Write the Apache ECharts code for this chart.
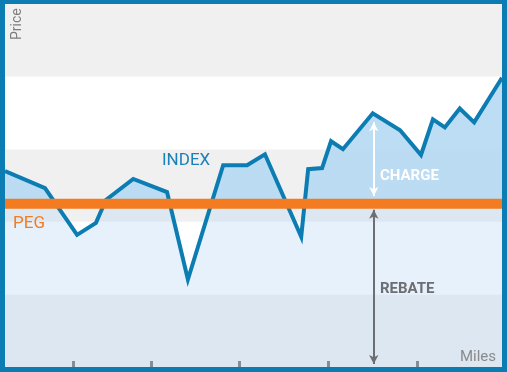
<!DOCTYPE html>
<html>
<head>
<meta charset="utf-8">
<script src="https://cdn.jsdelivr.net/npm/echarts@6/dist/echarts.min.js"></script>
<style>
  html, body { margin: 0; padding: 0; background: #fff; }
  #wrap { width: 507px; height: 372px; box-sizing: border-box; border: 5px solid #0b7db3; border-top-width: 4px; overflow: hidden; }
  #chart { width: 497px; height: 363px; }
</style>
</head>
<body>
<div id="wrap"><div id="chart"></div></div>
<script>
// Miles (x) and Price (y) of the INDEX line
const indexMiles = [0, 8.05, 14.5, 18.3, 20.3, 25.8, 32.6, 36.8, 43.9, 48.7, 52.3, 59.6, 61.0, 63.8, 65.6, 68.0, 74.0, 79.5, 83.7, 86.1, 88.5, 91.5, 94.4, 100];
const indexPrice = [54.0, 49.3, 36.4, 39.7, 46.0, 51.8, 48.2, 24.1, 55.6, 55.6, 58.6, 35.9, 54.5, 54.8, 62.2, 60.0, 69.9, 65.2, 58.4, 68.2, 66.0, 71.2, 67.4, 79.7];
// PEG level
const pegMiles = [0, 100];
const pegPrice = [45, 45];
// Tick marks on the Miles axis
const mileTicks = [13.7, 29.4, 47.1, 65.0, 82.9];
// Annotation arrows
const chargeArrow = { x: 74.2, from: 67.4, to: 47.1 };
const rebateArrow = { x: 74.2, from: 43.3, to: 0.8 };

const indexData = indexMiles.map((m, i) => [m, indexPrice[i]]);
const pegData = pegMiles.map((m, i) => [m, pegPrice[i]]);
const PEG = pegPrice[0];

const chart = echarts.init(document.getElementById('chart'), null, { renderer: 'canvas' });
const option = {
  animation: false,
  grid: { left: 0, right: 0, top: -2, bottom: 0 },
  xAxis: {
    type: 'value', min: 0, max: 100,
    axisLine: { show: false },
    splitLine: { show: false },
    axisLabel: { show: false },
    axisTick: { show: true, inside: true, length: 6, customValues: mileTicks,
      lineStyle: { color: '#6d6e71', width: 3 } }
  },
  yAxis: {
    type: 'value', min: 0, max: 100, interval: 20,
    axisLine: { show: false }, axisTick: { show: false }, axisLabel: { show: false },
    splitLine: { show: false },
    splitArea: { show: true, areaStyle: { color: ['#f0f0f0', '#ffffff'] } }
  },
  series: [
    { // tint below the index line
      type: 'line', data: indexData, symbol: 'none', z: 1, silent: true,
      lineStyle: { width: 0, opacity: 0 },
      areaStyle: { color: 'rgba(178,212,242,0.32)', origin: 'start', opacity: 1 }
    },
    { // charge area between index and peg
      type: 'line', data: indexData, symbol: 'none', z: 2, silent: true,
      lineStyle: { width: 0, opacity: 0 },
      areaStyle: { origin: PEG, opacity: 1, color: 'rgba(182,218,243,0.88)' }
    },
    { // index line
      type: 'line', data: indexData, symbol: 'none', z: 3, silent: true,
      lineStyle: { color: '#0b7db3', width: 4, join: 'miter' }
    },
    { // peg line + arrows
      type: 'line', data: pegData, symbol: 'none', z: 4, silent: true,
      lineStyle: { color: '#f47b20', width: 10 },
      markLine: {
        silent: true, symbol: ['arrow', 'arrow'], symbolSize: [7, 9],
        label: { show: false },
        data: [
          [{ coord: [chargeArrow.x, chargeArrow.from], lineStyle: { color: '#ffffff', width: 2, type: 'solid' } },
           { coord: [chargeArrow.x, chargeArrow.to] }],
          [{ coord: [rebateArrow.x, rebateArrow.from], lineStyle: { color: '#6d6e71', width: 2, type: 'solid' } },
           { coord: [rebateArrow.x, rebateArrow.to] }]
        ]
      }
    }
  ],
  graphic: [
    { type: 'text', x: 12, y: 36, rotation: Math.PI / 2, z: 10,
      style: { text: 'Price', fontFamily: 'Roboto', fontSize: 14, fill: '#7d7d7d', align: 'left', verticalAlign: 'middle' } },
    { type: 'text', x: 157, y: 157, z: 10,
      style: { text: 'INDEX', fontFamily: 'Roboto', fontSize: 17, fill: '#1a80b8', align: 'left', verticalAlign: 'middle' } },
    { type: 'text', x: 375, y: 172.5, z: 10,
      style: { text: 'CHARGE', fontFamily: 'Roboto', fontWeight: 'bold', fontSize: 15, fill: '#ffffff', align: 'left', verticalAlign: 'middle' } },
    { type: 'text', x: 375, y: 285.5, z: 10,
      style: { text: 'REBATE', fontFamily: 'Roboto', fontWeight: 'bold', fontSize: 15, fill: '#6d6e71', align: 'left', verticalAlign: 'middle' } },
    { type: 'text', x: 8, y: 219.5, z: 10,
      style: { text: 'PEG', fontFamily: 'Roboto', fontSize: 17, fill: '#f47b20', align: 'left', verticalAlign: 'middle' } },
    { type: 'text', x: 491, y: 353.5, z: 10,
      style: { text: 'Miles', fontFamily: 'Roboto', fontSize: 15, fill: '#8a8a8a', align: 'right', verticalAlign: 'middle' } }
  ]
};
chart.setOption(option);
// Clip the charge fill to the part above the PEG with a hard-stop gradient in pixel space
const pegY = chart.convertToPixel({ gridIndex: 0 }, [0, PEG])[1];
const A = 'rgba(182,218,243,0.88)';
chart.setOption({
  series: [{}, { areaStyle: { color: new echarts.graphic.LinearGradient(0, 0, 0, pegY * 2, [
    { offset: 0, color: A }, { offset: 0.5, color: A },
    { offset: 0.5, color: 'rgba(255,255,255,0)' }, { offset: 1, color: 'rgba(255,255,255,0)' }
  ], true) } }]
});
</script>
</body>
</html>
